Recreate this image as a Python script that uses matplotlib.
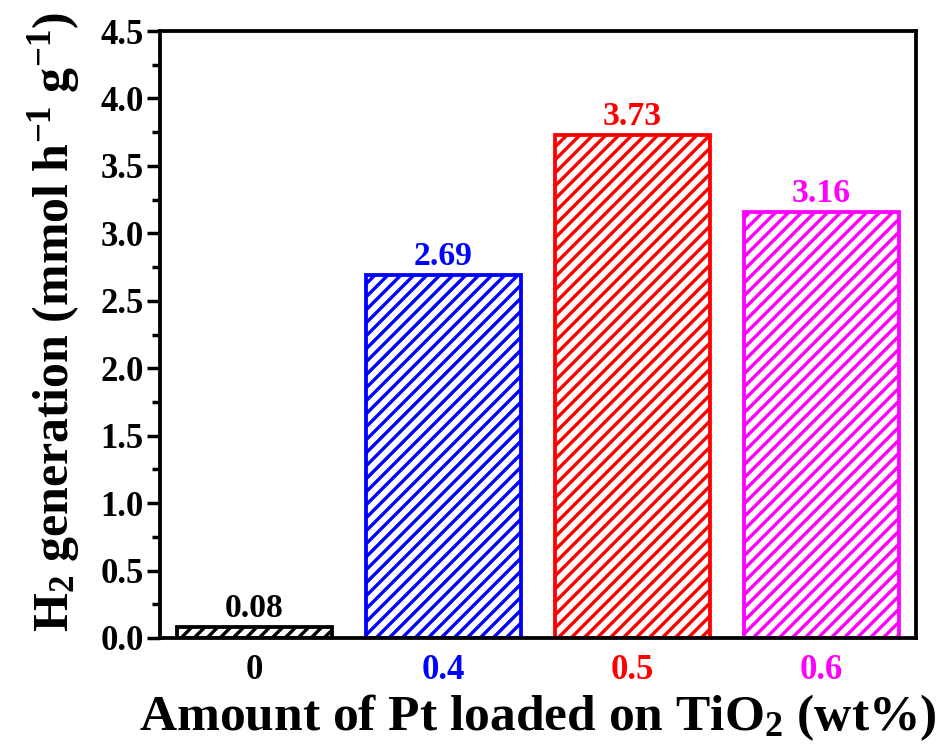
import matplotlib
matplotlib.use("Agg")
import matplotlib.pyplot as plt
from matplotlib.ticker import MultipleLocator

categories = ["0", "0.4", "0.5", "0.6"]
values = [0.08, 2.69, 3.73, 3.16]
value_labels = ["0.08", "2.69", "3.73", "3.16"]
colors = ["#000000", "#0000FF", "#FF0000", "#FF00FF"]

DPI = 78
plt.rcParams["font.family"] = ["Liberation Serif", "DejaVu Serif"]
plt.rcParams["font.weight"] = "bold"
plt.rcParams["mathtext.fontset"] = "custom"
plt.rcParams["mathtext.rm"] = "Liberation Serif:bold"
plt.rcParams["mathtext.it"] = "Liberation Serif:bold"
plt.rcParams["mathtext.bf"] = "Liberation Serif:bold"
plt.rcParams["mathtext.default"] = "bf"
plt.rcParams["hatch.linewidth"] = 3.1

fig = plt.figure(figsize=(940 / DPI, 749 / DPI), dpi=DPI)
ax = fig.add_axes([160 / 940, 1 - 638 / 749, (916 - 160) / 940, (638 - 31) / 749])

x = list(range(len(categories)))
bars = ax.bar(x, values, width=0.815, facecolor="white", edgecolor=colors,
              hatch="//", linewidth=3.5, zorder=2)

for xi, v, lab, c in zip(x, values, value_labels, colors):
    ax.annotate(lab, xy=(xi, v), xytext=(0, 3), textcoords="offset points",
                ha="center", va="bottom", fontsize=31, fontweight="bold", color=c)

ax.set_xlim(-0.5, 3.5)
ax.set_ylim(0, 4.5)
ax.set_xticks(x)
ax.set_xticklabels(categories)
for lbl, c in zip(ax.get_xticklabels(), colors):
    lbl.set_color(c)
ax.yaxis.set_major_locator(MultipleLocator(0.5))
ax.yaxis.set_minor_locator(MultipleLocator(0.25))
ax.yaxis.set_major_formatter(matplotlib.ticker.FormatStrFormatter("%.1f"))

ax.tick_params(axis="x", length=0, pad=14.5, labelsize=32)
ax.tick_params(axis="y", which="major", direction="out", length=12, width=3.2,
               labelsize=32, pad=3)
ax.tick_params(axis="y", which="minor", direction="out", length=7, width=3.2)
for lbl in ax.get_xticklabels() + ax.get_yticklabels():
    lbl.set_fontweight("bold")

for s in ax.spines.values():
    s.set_linewidth(3.5)

ax.set_xlabel(r"Amount of Pt loaded on TiO$_2$ (wt%)", fontsize=47.5,
              fontweight="bold", labelpad=5)
ax.set_ylabel(r"H$_2$ generation (mmol h$^{-1}$ g$^{-1}$)", fontsize=46,
              fontweight="bold", labelpad=17)
ax.yaxis.label.set_y(0.52)

fig.savefig("out.png", dpi=DPI)
